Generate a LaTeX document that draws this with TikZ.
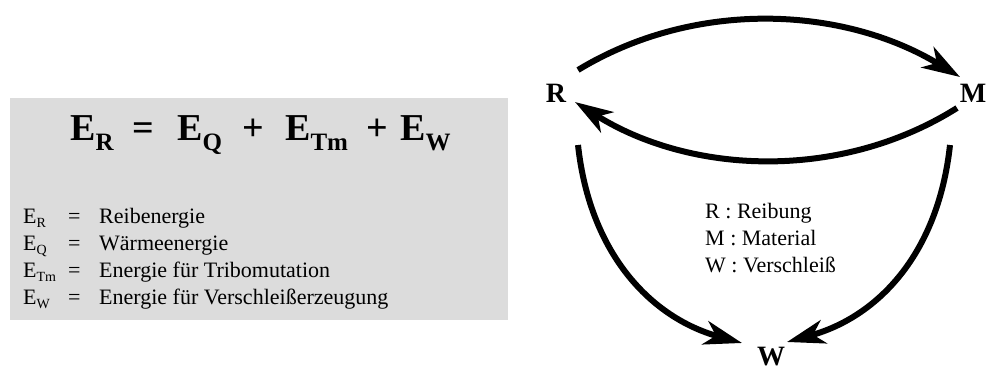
\documentclass[tikz,border=0pt]{standalone}
\usepackage{fontspec}
\setmainfont{Liberation Serif}
\usetikzlibrary{arrows.meta}
\definecolor{boxgray}{RGB}{220,220,220}
\newcommand\bsub[1]{\raisebox{-10pt}{\fontsize{25}{25}\selectfont\bfseries #1}}
\newcommand\lsub[1]{\raisebox{-4pt}{\fontsize{14}{14}\selectfont #1}}
\begin{document}
\begin{tikzpicture}[x=1pt,y=-1pt,
  eqtxt/.style={font=\fontsize{38}{46}\selectfont\bfseries, inner sep=0pt, anchor=base west},
  legtxt/.style={font=\fontsize{22}{27}\selectfont, inner sep=0pt, anchor=base west},
  letter/.style={font=\fontsize{28}{30}\selectfont\bfseries, inner sep=0pt, anchor=base},
  conn/.style={line width=6pt, -{Stealth[length=38pt,width=24pt,inset=11pt]}}]
\useasboundingbox (0,0) rectangle (987,370);
% grey box
\fill[boxgray] (10,98) rectangle (508,320);
% equation
\node[eqtxt] (e1) at (70,140) {E\bsub{R}};
\node[eqtxt] (e2) at (132,140) {=};
\node[eqtxt] (e3) at (177,140) {E\bsub{Q}};
\node[eqtxt] (e4) at (242,140) {+};
\node[eqtxt] (e5) at (285,140) {E\bsub{Tm}};
\node[eqtxt] (e6) at (366,140) {+};
\node[eqtxt] (e7) at (400,140) {E\bsub{W}};
% legend left
\node[legtxt] (l1a) at (23,223) {E\lsub{R}};
\node[legtxt] (l1b) at (68,223) {=};
\node[legtxt] (l1c) at (99,223) {Reibenergie};
\node[legtxt] (l2a) at (23,250) {E\lsub{Q}};
\node[legtxt] (l2b) at (68,250) {=};
\node[legtxt] (l2c) at (99,250) {Wärmeenergie};
\node[legtxt] (l3a) at (23,277) {E\lsub{Tm}};
\node[legtxt] (l3b) at (68,277) {=};
\node[legtxt] (l3c) at (99,277) {Energie für Tribomutation};
\node[legtxt] (l4a) at (23,304) {E\lsub{W}};
\node[legtxt] (l4b) at (68,304) {=};
\node[legtxt] (l4c) at (99,304) {Energie für Verschleißerzeugung};
% legend right
\node[legtxt] (r1) at (705,218) {R : Reibung};
\node[legtxt] (r2) at (705,245) {M : Material};
\node[legtxt] (r3) at (705,272) {W : Verschleiß};
% letters
\node[letter] (R) at (556,102) {R};
\node[letter] (M) at (973,102) {M};
\node[letter] (W) at (771,365) {W};
% connectors
\draw[conn] ([shift={(22,-32)}]R.base) .. controls +(117,-71) and +(-117,-71) .. ([shift={(-13,-25)}]M.base);
\draw[conn] ([shift={(-16,6)}]M.base) .. controls +(-116,73) and +(116,73) .. ([shift={(19,0)}]R.base);
\draw[conn] ([shift={(22,43)}]R.base) .. controls +(12,110) and +(-90,-25) .. ([shift={(-29,-22)}]W.base);
\draw[conn] ([shift={(-23,43)}]M.base) .. controls +(-12,110) and +(90,-25) .. ([shift={(16,-23)}]W.base);
\end{tikzpicture}
\end{document}
